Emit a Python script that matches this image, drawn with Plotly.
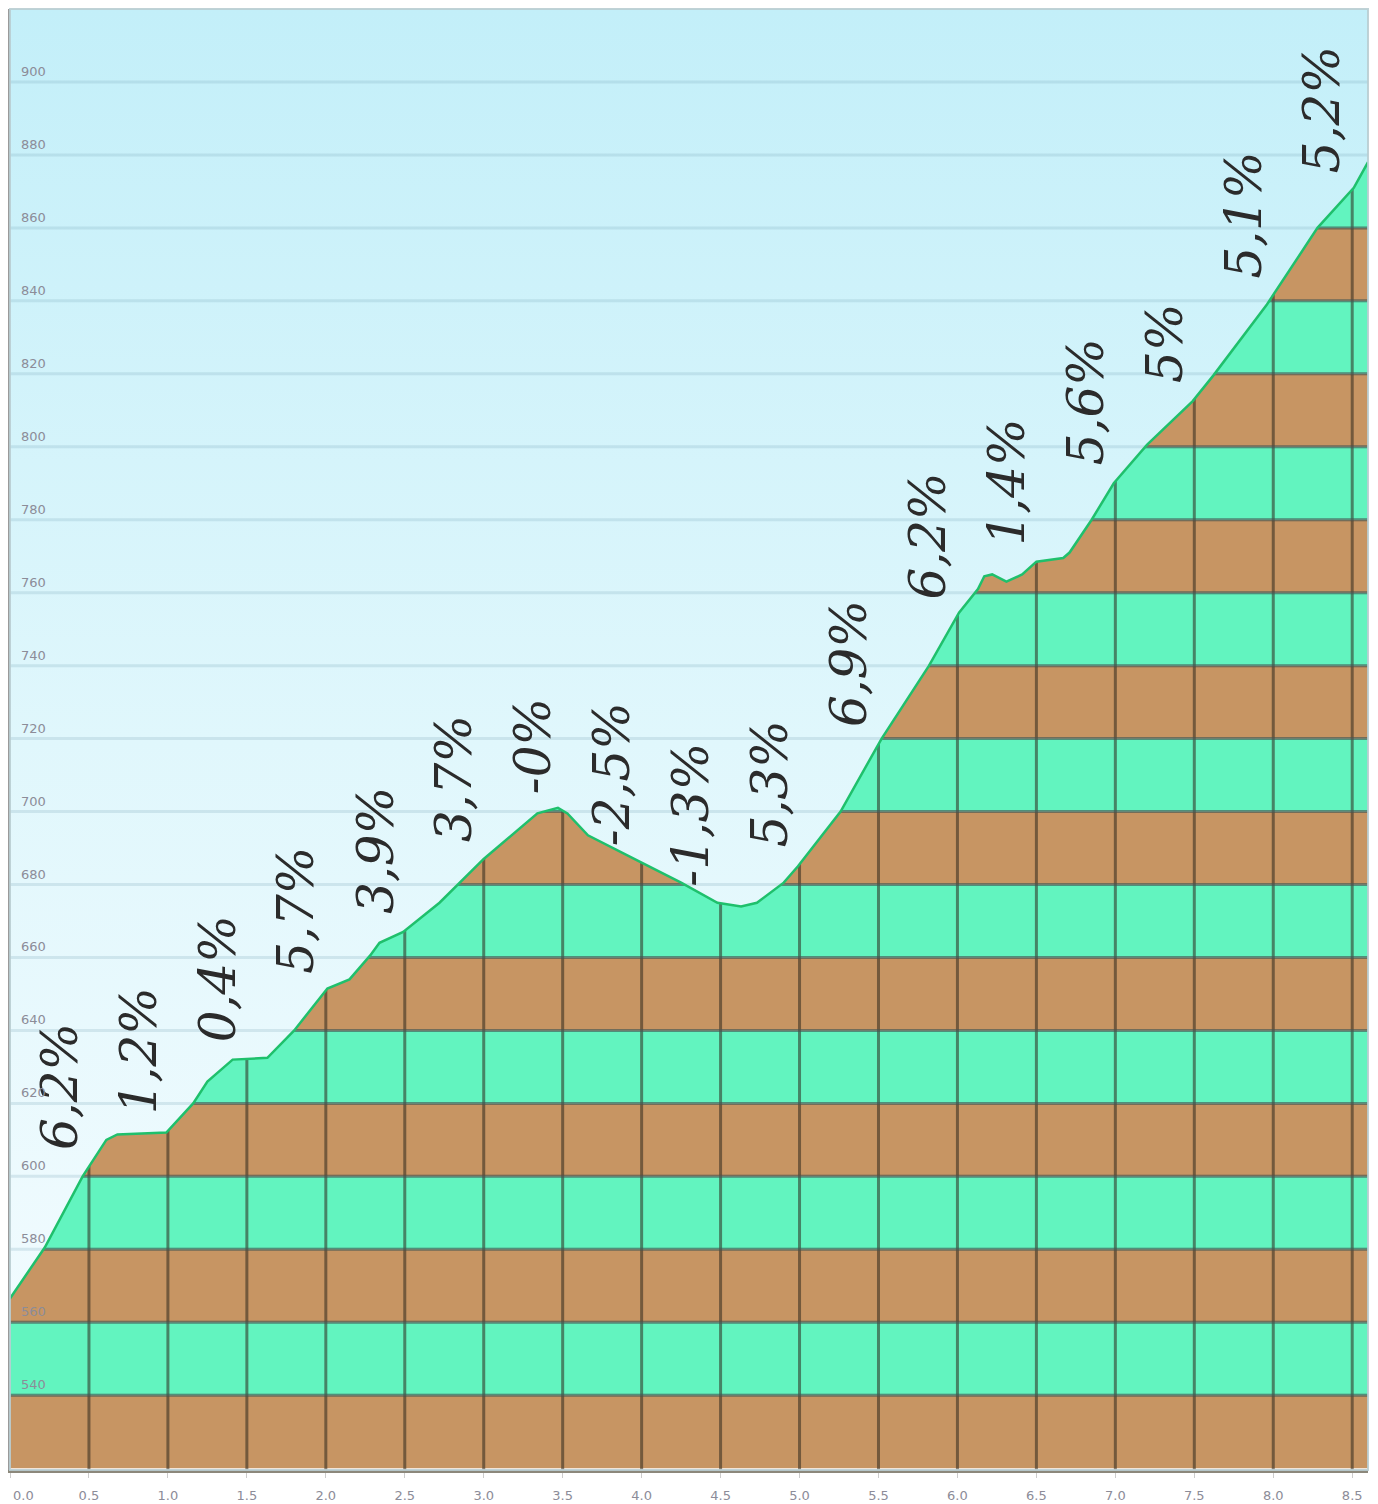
import numpy as np
import plotly.graph_objects as go

# ---------------- data ----------------
dist_km = [0.00, 0.22, 0.46, 0.61, 0.68, 0.99, 1.16, 1.25, 1.41, 1.63, 1.80, 2.01, 2.15,
           2.28, 2.34, 2.49, 2.72, 2.86, 3.00, 3.34, 3.47, 3.53, 3.66, 4.00, 4.25, 4.48,
           4.63, 4.73, 4.90, 4.99, 5.26, 5.52, 5.82, 6.01, 6.13, 6.17, 6.22, 6.31, 6.41,
           6.50, 6.67, 6.71, 6.85, 6.99, 7.20, 7.49, 7.62, 7.96, 8.28, 8.51, 8.60]
elev_m = [566.5, 580.5, 600, 610, 611.5, 612, 620, 626, 632, 632.5, 640, 651.5, 654,
          660.5, 664, 667, 675, 681, 687, 699.5, 701, 699.5, 693.5, 686, 680.5, 675,
          674, 675, 680.5, 685, 700, 720, 740, 754.5, 761, 764.5, 765, 763, 765,
          768.5, 769.5, 771, 780, 790, 800.5, 812.5, 819.5, 839, 860, 871, 878]

grade_labels = ["6,2%", "1,2%", "0,4%", "5,7%", "3,9%", "3,7%", "-0%", "-2,5%", "-1,3%",
                "5,3%", "6,9%", "6,2%", "1,4%", "5,6%", "5%", "5,1%", "5,2%"]
segment_len_km = 0.5

y_tick_vals = list(range(540, 901, 20))
y_tick_text = [str(v) for v in y_tick_vals]
x_tick_vals = [i * 0.5 for i in range(18)]
x_tick_text = [f"{v:.1f}" for v in x_tick_vals]

# ---------------- layout constants ----------------
X0, X1 = 0.0, 8.6
Y0, Y1 = 519.5, 920
BAND = 20
BROWN = "#c79563"
GREEN = "#62f4bf"
TICK_FONT = dict(family="DejaVu Sans", size=13, color="#8c8c98")

fig = go.Figure()
shapes = []

# elevation bands (full width, later covered by the sky above the profile)
b = 520
while b < Y1:
    idx = (b // BAND)
    shapes.append(dict(type="rect", xref="x", yref="y", x0=X0, x1=X1,
                       y0=max(b, Y0), y1=min(b + BAND, Y1),
                       fillcolor=BROWN if idx % 2 == 0 else GREEN,
                       line=dict(width=0), layer="below"))
    b += BAND

# dark band boundary lines
for v in range(540, 920, BAND):
    shapes.append(dict(type="line", xref="x", yref="y", x0=X0, x1=X1, y0=v, y1=v,
                       line=dict(color="rgba(45,50,35,0.55)", width=3), layer="below"))
# dark vertical km lines
for xv in x_tick_vals[1:]:
    shapes.append(dict(type="line", xref="x", yref="y", x0=xv, x1=xv, y0=Y0, y1=Y1,
                       line=dict(color="rgba(45,40,30,0.55)", width=3), layer="below"))

# sky above the profile
sky_x = list(dist_km) + [X1, X0]
sky_y = list(elev_m) + [Y1, Y1]
fig.add_trace(go.Scatter(
    x=sky_x, y=sky_y, mode="lines", fill="toself", line=dict(width=0),
    fillgradient=dict(type="vertical", start=Y0, stop=Y1,
                      colorscale=[[0.0, "#f5fcff"], [0.5, "#e0f7fc"], [1.0, "#c3eff9"]]),
    hoverinfo="skip", showlegend=False))

# light grid lines over the sky
for v in y_tick_vals:
    fig.add_trace(go.Scatter(x=[X0, X1], y=[v, v], mode="lines",
                             line=dict(color="rgba(120,165,180,0.22)", width=3),
                             hoverinfo="skip", showlegend=False))

# profile line
fig.add_trace(go.Scatter(x=dist_km, y=elev_m, mode="lines",
                         line=dict(color="#1fc06c", width=2.5),
                         hoverinfo="skip", showlegend=False))

annotations = []
# gradient labels
for i, lab in enumerate(grade_labels):
    xs = i * segment_len_km
    xe = min((i + 1) * segment_len_km, dist_km[-1])
    xm = (xs + xe) / 2 if i < len(grade_labels) - 1 else xs + 0.25
    ye = float(np.interp(xe, dist_km, elev_m))
    annotations.append(dict(x=xm, y=ye + 4, xref="x", yref="y", text=lab,
                            textangle=-90, showarrow=False, xanchor="center",
                            yanchor="bottom", xshift=10,
                            font=dict(family="DejaVu Serif", size=50, color="#2b2b2b",
                                      style="italic")))
# y tick labels (inside, above the lines)
for v, t in zip(y_tick_vals, y_tick_text):
    annotations.append(dict(x=0, y=v, xref="paper", yref="y", text=t, showarrow=False,
                            xanchor="left", yanchor="bottom", xshift=9, yshift=1,
                            font=TICK_FONT))
# first x label, kept inside the picture
annotations.append(dict(x=x_tick_vals[0], y=0, xref="x", yref="paper",
                        text=x_tick_text[0], showarrow=False, xanchor="left",
                        yanchor="top", xshift=1, yshift=-16, font=TICK_FONT))

# outer light frame
shapes.append(dict(type="rect", xref="paper", yref="paper", x0=0, x1=1, y0=0, y1=1,
                   line=dict(color="rgba(185,205,210,0.9)", width=2), layer="above"))

x_tick_shown = [""] + x_tick_text[1:]

# the page body adds an 8px offset, so the figure is sized to fit the window
fig.update_layout(
    width=1370, height=1496,
    margin=dict(l=2, r=10, t=1, b=34, autoexpand=False),
    paper_bgcolor="white", plot_bgcolor="white",
    shapes=shapes, annotations=annotations,
    xaxis=dict(range=[X0, X1], tickvals=x_tick_vals, ticktext=x_tick_shown,
               automargin=False,
               showgrid=False, zeroline=False, showline=True,
               linecolor="rgba(120,115,100,0.85)", linewidth=3,
               ticks="outside", ticklen=5, tickcolor="#cccccc", ticklabelstandoff=6,
               tickfont=TICK_FONT),
    yaxis=dict(range=[Y0, Y1], showgrid=False, zeroline=False, showticklabels=False,
               automargin=False,
               showline=True, linecolor="#9a9a9a", linewidth=3),
)

fig.write_html("out.html")
